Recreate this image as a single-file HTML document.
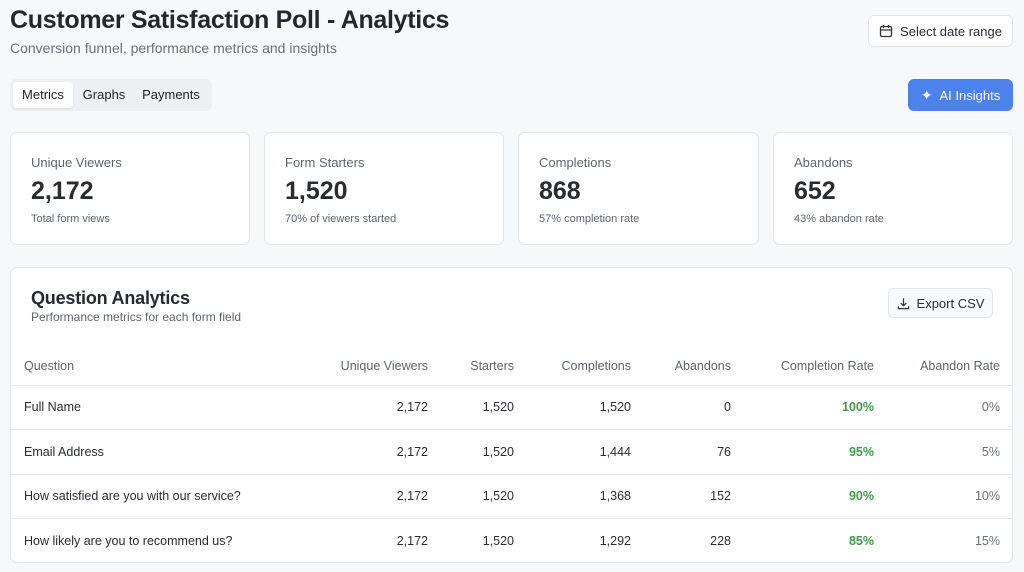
<!DOCTYPE html>
<html><head><meta charset="utf-8"><style>
*{box-sizing:border-box;margin:0;padding:0}
body{width:1024px;height:572px;overflow:hidden;background:#f7f8fa;font-family:"Liberation Sans",Arial,sans-serif;color:#27292e;position:relative}
.abs{position:absolute}
h1{position:absolute;left:10px;top:6px;font-size:25px;font-weight:bold;letter-spacing:-0.3px;color:#25272c}
.sub{left:10px;top:40px;font-size:14px;color:#6b6f77}
.btn{position:absolute;border:1px solid #e2e4e8;background:#fff;border-radius:6px;font-size:13px;display:flex;align-items:center;justify-content:center;gap:7px;color:#2a2c31}
.tabs{left:10px;top:79px;width:202px;height:32px;background:#eeeff2;border-radius:6px}
.tab{position:absolute;top:3px;height:26px;font-size:13px;line-height:26px;text-align:center;color:#1f2126}
.card{position:absolute;top:132px;height:113px;background:#fff;border:1px solid #e3e5e9;border-radius:7px}
.card .l{position:absolute;left:20px;top:22px;font-size:13px;color:#60646c}
.card .n{position:absolute;left:20px;top:44px;font-size:25px;font-weight:bold;color:#2a2c31}
.card .s{position:absolute;left:20px;top:80px;font-size:11px;color:#60646c}
.panel{left:10px;top:267px;width:1003px;height:296px;background:#fff;border:1px solid #e3e5e9;border-radius:7px;overflow:hidden}
table{position:absolute;left:0;top:80px;width:1003px;border-collapse:collapse;font-size:12.5px}
th{font-weight:normal;color:#5f636b;height:37px;text-align:right;border-bottom:1px solid #e6e8eb}
td{height:44.5px;text-align:right;border-bottom:1px solid #e6e8eb;color:#2a2c31}
tr:last-child td{border-bottom:none}
th:first-child,td:first-child{text-align:left;padding-left:13px}
.g{color:#3f9b48;font-weight:bold}
.gr{color:#6b6f77}
</style></head><body>
<h1>Customer Satisfaction Poll - Analytics</h1>
<div class="abs sub">Conversion funnel, performance metrics and insights</div>
<div class="btn" style="left:868px;top:15px;width:145px;height:32px">
<svg width="14" height="14" viewBox="0 0 14 14" fill="none" stroke="#333" stroke-width="1.3"><rect x="1.5" y="2.5" width="11" height="10" rx="1.5"/><path d="M1.5 6h11M4.5 1v3M9.5 1v3"/></svg>Select date range</div>
<div class="abs tabs">
<div class="tab" style="left:3px;width:60px;background:#fff;border-radius:4px;box-shadow:0 1px 2px rgba(0,0,0,.06)">Metrics</div>
<div class="tab" style="left:66px;width:56px">Graphs</div>
<div class="tab" style="left:126px;width:70px">Payments</div>
</div>
<div class="btn" style="left:908px;top:79px;width:105px;height:32px;background:#4b82ee;border-color:#4b82ee;color:#fff"><span style="font-size:14px">✦</span>AI Insights</div>

<div class="card" style="left:10px;width:240px"><div class="l">Unique Viewers</div><div class="n">2,172</div><div class="s">Total form views</div></div>
<div class="card" style="left:264px;width:240px"><div class="l">Form Starters</div><div class="n">1,520</div><div class="s">70% of viewers started</div></div>
<div class="card" style="left:518px;width:241px"><div class="l">Completions</div><div class="n">868</div><div class="s">57% completion rate</div></div>
<div class="card" style="left:773px;width:240px"><div class="l">Abandons</div><div class="n">652</div><div class="s">43% abandon rate</div></div>

<div class="abs panel">
<div class="abs" style="left:20px;top:20px;font-size:18px;font-weight:bold;letter-spacing:-0.2px">Question Analytics</div>
<div class="abs" style="left:20px;top:42px;font-size:12px;color:#60646c">Performance metrics for each form field</div>
<div class="btn" style="left:877px;top:20px;width:105px;height:30px;background:#f9fafb">
<svg width="13" height="13" viewBox="0 0 14 14" fill="none" stroke="#333" stroke-width="1.3"><path d="M7 1.5v7.5M4 6.5L7 9.5 10 6.5M1.5 10v2.5h11V10"/></svg>Export CSV</div>
<table>
<colgroup><col style="width:280px"><col style="width:137px"><col style="width:86px"><col style="width:117px"><col style="width:100px"><col style="width:143px"><col style="width:126px"><col></colgroup>
<tr><th>Question</th><th>Unique Viewers</th><th>Starters</th><th>Completions</th><th>Abandons</th><th>Completion Rate</th><th>Abandon Rate</th><th></th></tr>
<tr><td>Full Name</td><td>2,172</td><td>1,520</td><td>1,520</td><td>0</td><td class="g">100%</td><td class="gr">0%</td><td></td></tr>
<tr><td>Email Address</td><td>2,172</td><td>1,520</td><td>1,444</td><td>76</td><td class="g">95%</td><td class="gr">5%</td><td></td></tr>
<tr><td>How satisfied are you with our service?</td><td>2,172</td><td>1,520</td><td>1,368</td><td>152</td><td class="g">90%</td><td class="gr">10%</td><td></td></tr>
<tr><td>How likely are you to recommend us?</td><td>2,172</td><td>1,520</td><td>1,292</td><td>228</td><td class="g">85%</td><td class="gr">15%</td><td></td></tr>
</table>
</div>
</body></html>
